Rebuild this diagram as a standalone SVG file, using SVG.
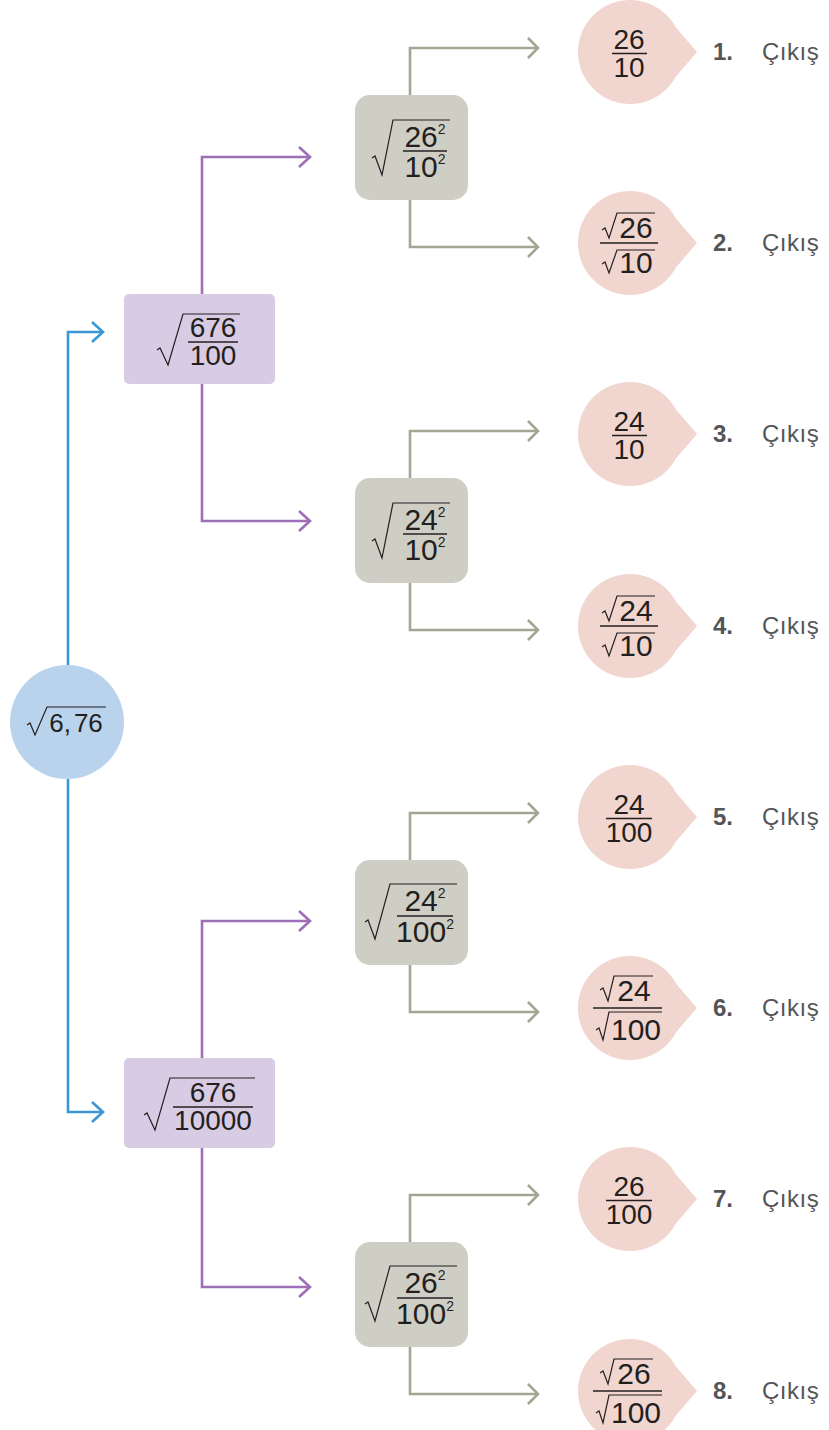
<svg xmlns="http://www.w3.org/2000/svg" width="829" height="1430" viewBox="0 0 829 1430">
<defs>
<style>
.num{font-family:"Liberation Sans",Arial,sans-serif;fill:#231f20;text-anchor:middle}
.f26{font-size:28px}
.f27{font-size:28px}
.f28{font-size:30px}
.fb{font-size:30px}
.sup{font-size:14px}
.lbl{font-family:"Liberation Sans",Arial,sans-serif;font-size:24px;fill:#555557}
.lb{font-weight:bold}
.rad{fill:none;stroke:#231f20;stroke-width:1.2;stroke-linejoin:miter}
.bar{stroke:#231f20;stroke-width:1.4}
.cb{fill:none;stroke:#3b97d3;stroke-width:2.6}
.cp{fill:none;stroke:#9d6fb6;stroke-width:2.6}
.cg{fill:none;stroke:#a4a592;stroke-width:2.6}
.pink{fill:#f1d6d0}
.pbox{fill:#d8cce5}
.gbox{fill:#cfcec5}
</style>
<marker id="ab" viewBox="-13 -12 15 24" refX="0" refY="0" markerWidth="15" markerHeight="24" markerUnits="userSpaceOnUse" orient="auto"><path d="M-11,-10 L0,0 L-11,10" fill="none" stroke="#3b97d3" stroke-width="2.6"/></marker>
<marker id="ap" viewBox="-13 -12 15 24" refX="0" refY="0" markerWidth="15" markerHeight="24" markerUnits="userSpaceOnUse" orient="auto"><path d="M-11,-10 L0,0 L-11,10" fill="none" stroke="#9d6fb6" stroke-width="2.6"/></marker>
<marker id="ag" viewBox="-13 -12 15 24" refX="0" refY="0" markerWidth="15" markerHeight="24" markerUnits="userSpaceOnUse" orient="auto"><path d="M-10,-10 L0,0 L-10,10" fill="none" stroke="#a4a592" stroke-width="2.6"/></marker>
</defs>
<rect width="829" height="1430" fill="#ffffff"/>

<g id="connectors">
<path class="cb" d="M68,665 V332 H103" marker-end="url(#ab)"/>
<path class="cb" d="M68,779 V1112 H103" marker-end="url(#ab)"/>
<path class="cp" d="M202,294 V157 H310" marker-end="url(#ap)"/>
<path class="cp" d="M202,384 V521 H310" marker-end="url(#ap)"/>
<path class="cp" d="M202,1058 V921 H310" marker-end="url(#ap)"/>
<path class="cp" d="M202,1148 V1287 H310" marker-end="url(#ap)"/>
<path class="cg" d="M410,95 V48 H538" marker-end="url(#ag)"/>
<path class="cg" d="M410,200 V247 H538" marker-end="url(#ag)"/>
<path class="cg" d="M410,478 V431 H538" marker-end="url(#ag)"/>
<path class="cg" d="M410,583 V630 H538" marker-end="url(#ag)"/>
<path class="cg" d="M410,860 V813 H538" marker-end="url(#ag)"/>
<path class="cg" d="M410,965 V1012 H538" marker-end="url(#ag)"/>
<path class="cg" d="M410,1242 V1195 H538" marker-end="url(#ag)"/>
<path class="cg" d="M410,1347 V1394 H538" marker-end="url(#ag)"/>
</g>

<g id="root">
<circle cx="67" cy="722" r="57" fill="#b9d3ec"/>
<path class="rad" d="M27,725 L30,723 L35,735 L47,707 H106"/>
<text class="num" x="76" y="732" style="font-size:26px">6,<tspan dx="3">76</tspan></text>
</g>

<g id="p1">
<rect class="pbox" x="124" y="294" width="151" height="90" rx="5"/>
<path class="rad" d="M157,350 L160,348 L168,365 L183,314 H240"/>
<text class="num f27" x="213" y="337">676</text>
<line class="bar" x1="188" y1="342" x2="238" y2="342"/>
<text class="num f27" x="213" y="365">100</text>
</g>

<g id="p2">
<rect class="pbox" x="124" y="1058" width="151" height="90" rx="5"/>
<path class="rad" d="M144,1115 L147,1113 L155,1130 L170,1078 H255"/>
<text class="num f27" x="213" y="1102">676</text>
<line class="bar" x1="173" y1="1107" x2="253" y2="1107"/>
<text class="num f27" x="213" y="1130">10000</text>
</g>

<g id="g1">
<rect class="gbox" x="355" y="95" width="113" height="105" rx="15"/>
<path class="rad" d="M372,158 L375,156 L382,175 L393,120 H450"/>
<text class="num fb" x="425" y="147">26<tspan class="sup" dy="-13">2</tspan></text>
<line class="bar" x1="403" y1="151" x2="447" y2="151"/>
<text class="num fb" x="425" y="177">10<tspan class="sup" dy="-13">2</tspan></text>
</g>

<g id="g2">
<rect class="gbox" x="355" y="478" width="113" height="105" rx="15"/>
<path class="rad" d="M372,541 L375,539 L382,558 L393,503 H450"/>
<text class="num fb" x="425" y="530">24<tspan class="sup" dy="-13">2</tspan></text>
<line class="bar" x1="403" y1="534" x2="447" y2="534"/>
<text class="num fb" x="425" y="560">10<tspan class="sup" dy="-13">2</tspan></text>
</g>

<g id="g3">
<rect class="gbox" x="355" y="860" width="113" height="105" rx="15"/>
<path class="rad" d="M365,922 L368,920 L375,939 L390,884 H457"/>
<text class="num fb" x="425" y="911">24<tspan class="sup" dy="-13">2</tspan></text>
<line class="bar" x1="397" y1="916" x2="453" y2="916"/>
<text class="num fb" x="425" y="942">100<tspan class="sup" dy="-13">2</tspan></text>
</g>

<g id="g4">
<rect class="gbox" x="355" y="1242" width="113" height="105" rx="15"/>
<path class="rad" d="M365,1304 L368,1302 L375,1321 L390,1266 H457"/>
<text class="num fb" x="425" y="1293">26<tspan class="sup" dy="-13">2</tspan></text>
<line class="bar" x1="397" y1="1298" x2="453" y2="1298"/>
<text class="num fb" x="425" y="1324">100<tspan class="sup" dy="-13">2</tspan></text>
</g>

<g id="o1">
<path class="pink" d="M675.9,27.6 L697,52 L675.9,76.4 A52,52 0 1 1 675.9,27.6 Z"/>
<text class="num f26" x="629" y="49">26</text>
<line class="bar" x1="612" y1="53.5" x2="647" y2="53.5"/>
<text class="num f26" x="629" y="77">10</text>
<text class="lbl lb" x="713" y="60">1.</text>
<text class="lbl" x="762" y="60" letter-spacing="0.5">Çıkış</text>
</g>

<g id="o2">
<path class="pink" d="M675.9,218.6 L697,243 L675.9,267.4 A52,52 0 1 1 675.9,218.6 Z"/>
<path class="rad" d="M602,230 L605,228 L609,238 L617,213 H655"/>
<text class="num f28" x="636" y="238">26</text>
<line class="bar" x1="600" y1="243" x2="658" y2="243"/>
<path class="rad" d="M602,264 L605,262 L609,273 L617,250 H655"/>
<text class="num f28" x="636" y="273">10</text>
<text class="lbl lb" x="713" y="251">2.</text>
<text class="lbl" x="762" y="251" letter-spacing="0.5">Çıkış</text>
</g>

<g id="o3">
<path class="pink" d="M675.9,409.6 L697,434 L675.9,458.4 A52,52 0 1 1 675.9,409.6 Z"/>
<text class="num f26" x="629" y="431">24</text>
<line class="bar" x1="612" y1="435.5" x2="647" y2="435.5"/>
<text class="num f26" x="629" y="459">10</text>
<text class="lbl lb" x="713" y="442">3.</text>
<text class="lbl" x="762" y="442" letter-spacing="0.5">Çıkış</text>
</g>

<g id="o4">
<path class="pink" d="M675.9,601.6 L697,626 L675.9,650.4 A52,52 0 1 1 675.9,601.6 Z"/>
<path class="rad" d="M602,613 L605,611 L609,621 L617,596 H655"/>
<text class="num f28" x="636" y="621">24</text>
<line class="bar" x1="600" y1="626" x2="658" y2="626"/>
<path class="rad" d="M602,647 L605,645 L609,656 L617,633 H655"/>
<text class="num f28" x="636" y="656">10</text>
<text class="lbl lb" x="713" y="634">4.</text>
<text class="lbl" x="762" y="634" letter-spacing="0.5">Çıkış</text>
</g>

<g id="o5">
<path class="pink" d="M675.9,792.6 L697,817 L675.9,841.4 A52,52 0 1 1 675.9,792.6 Z"/>
<text class="num f26" x="629" y="814">24</text>
<line class="bar" x1="606" y1="818.5" x2="652" y2="818.5"/>
<text class="num f26" x="629" y="842">100</text>
<text class="lbl lb" x="713" y="825">5.</text>
<text class="lbl" x="762" y="825" letter-spacing="0.5">Çıkış</text>
</g>

<g id="o6">
<path class="pink" d="M675.9,983.6 L697,1008 L675.9,1032.4 A52,52 0 1 1 675.9,983.6 Z"/>
<path class="rad" d="M600,990 L603,988 L608,1001 L614,976 H653"/>
<text class="num f28" x="634" y="1001">24</text>
<line class="bar" x1="593" y1="1008" x2="662" y2="1008"/>
<path class="rad" d="M596,1030 L599,1028 L603,1040 L609,1012 H662"/>
<text class="num f28" x="636" y="1040">100</text>
<text class="lbl lb" x="713" y="1016">6.</text>
<text class="lbl" x="762" y="1016" letter-spacing="0.5">Çıkış</text>
</g>

<g id="o7">
<path class="pink" d="M675.9,1174.6 L697,1199 L675.9,1223.4 A52,52 0 1 1 675.9,1174.6 Z"/>
<text class="num f26" x="629" y="1196">26</text>
<line class="bar" x1="606" y1="1200.5" x2="652" y2="1200.5"/>
<text class="num f26" x="629" y="1224">100</text>
<text class="lbl lb" x="713" y="1207">7.</text>
<text class="lbl" x="762" y="1207" letter-spacing="0.5">Çıkış</text>
</g>

<g id="o8">
<path class="pink" d="M675.9,1366.6 L697,1391 L675.9,1415.4 A52,52 0 1 1 675.9,1366.6 Z"/>
<path class="rad" d="M600,1373 L603,1371 L608,1384 L614,1359 H653"/>
<text class="num f28" x="634" y="1384">26</text>
<line class="bar" x1="593" y1="1391" x2="662" y2="1391"/>
<path class="rad" d="M596,1413 L599,1411 L603,1423 L609,1395 H662"/>
<text class="num f28" x="636" y="1423">100</text>
<text class="lbl lb" x="713" y="1399">8.</text>
<text class="lbl" x="762" y="1399" letter-spacing="0.5">Çıkış</text>
</g>
</svg>
